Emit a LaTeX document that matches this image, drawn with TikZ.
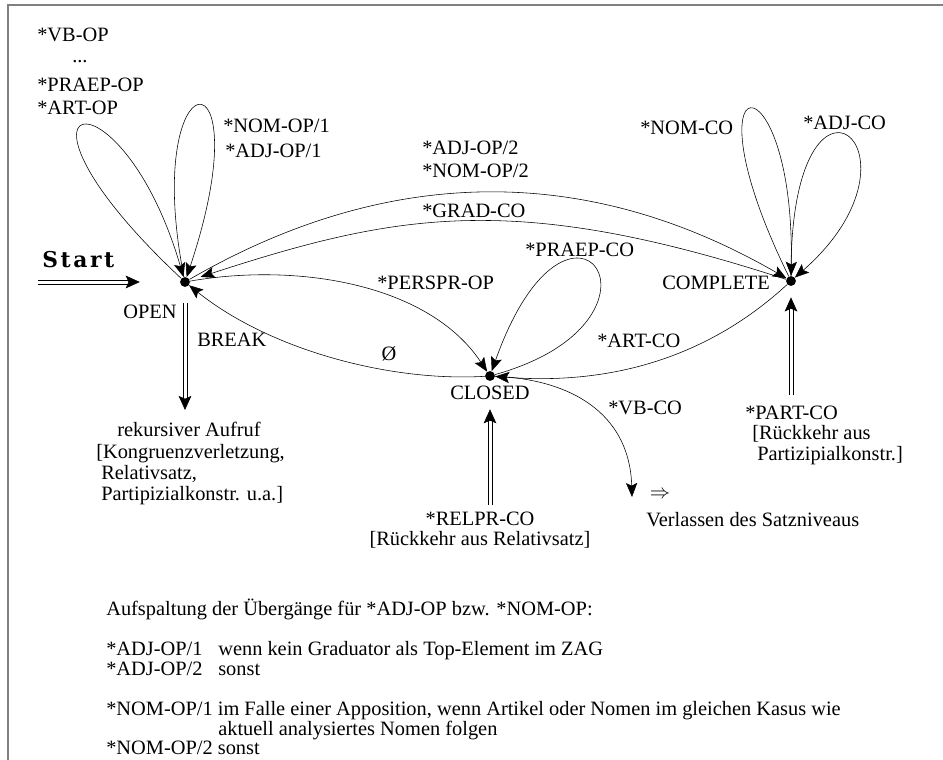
\documentclass[tikz,border=0pt]{standalone}
\usepackage{fontspec}
\setmainfont{Liberation Serif}
\newfontfamily\startfont[LetterSpace=12]{DejaVu Serif}
\usetikzlibrary{positioning,calc,arrows.meta}

\begin{document}
\begin{tikzpicture}[
    x=0.025cm, y=-0.025cm,
    every node/.style={font=\fontsize{14.5}{17}\selectfont, inner sep=0pt},
    state/.style={circle, fill=black, minimum size=7pt},
    trans/.style={draw, thin, -{Stealth[length=10pt, width=8pt, inset=2pt]}},
    dbltip/.style={draw, thin, -{Stealth[length=10pt, width=9pt, inset=2pt]}},
    rail/.style={draw, line width=0.5pt},
    lbl/.style={anchor=base west},
    frame/.style={draw, line width=1.2pt, black!50}
]

% Picture size and frame
\useasboundingbox (0,0) rectangle (943,760);
\draw[frame] (8,760) -- (8,5) -- (943,5);

% Define node positions
\node[state] (open) at (185,282) {};
\node[state] (complete) at (791,281) {};
\node[state] (closed) at (490,376) {};

% State names
\node[lbl] (openlbl) at (123,319) {OPEN};
\node[lbl] (completelbl) at (662,290) {COMPLETE};
\node[anchor=base] (closedlbl) at (490,400) {CLOSED};

% Entry and exits: two rails and a tip
\node[lbl, font=\startfont\bfseries\fontsize{15.5}{17}\selectfont] (start) at (42,268) {Start};
\coordinate (startin) at (38,282);
\coordinate (startend) at (129,282);
\coordinate (breakin) at (185,303);
\coordinate (breakend) at (185,399);
\coordinate (breakout) at (185,410);
\coordinate (relprin) at (490,505);
\coordinate (relprend) at (490,420);
\coordinate (partin) at (791,395);
\coordinate (partend) at (791,308);
\coordinate (vbout) at (632,497);

\draw[rail] ($(startin)+(0,1.4pt)$) -- ($(startend)+(0,1.4pt)$);
\draw[rail] ($(startin)+(0,-1.4pt)$) -- ($(startend)+(0,-1.4pt)$);
\draw[dbltip, shorten >=1cm] (startend) -- (open);

\draw[rail] ($(breakin)+(1.4pt,0)$) -- ($(breakend)+(1.4pt,0)$);
\draw[rail] ($(breakin)+(-1.4pt,0)$) -- ($(breakend)+(-1.4pt,0)$);
\draw[dbltip] (breakend) -- (breakout);

\draw[rail] ($(relprin)+(1.4pt,0)$) -- ($(relprend)+(1.4pt,0)$);
\draw[rail] ($(relprin)+(-1.4pt,0)$) -- ($(relprend)+(-1.4pt,0)$);
\draw[dbltip, shorten >=0.22cm] (relprend) -- (closedlbl);

\draw[rail] ($(partin)+(1.4pt,0)$) -- ($(partend)+(1.4pt,0)$);
\draw[rail] ($(partin)+(-1.4pt,0)$) -- ($(partend)+(-1.4pt,0)$);
\draw[dbltip, shorten >=0.28cm] (partend) -- (complete);

\node[lbl] (breaklbl) at (197,347) {BREAK};
\node[anchor=base] (rekursiv) at (189,437) {rekursiver Aufruf};
\node[lbl] (kongruenz) at (96,459) {[Kongruenzverletzung,};
\node[lbl] (relsatz) at (101,480) {Relativsatz,};
\node[lbl] (partipiz) at (101,501) {Partipizialkonstr. u.a.]};

\node[anchor=base] (relprlbl) at (480,526) {*RELPR-CO};
\node[anchor=base] (relprnote) at (480,546) {[Rückkehr aus Relativsatz]};

\node[lbl] (partlbl) at (745,420) {*PART-CO};
\node[lbl] (partnote) at (752,440) {[Rückkehr aus};
\node[lbl] (partnotetwo) at (757,461) {Partizipialkonstr.]};

\node[lbl] (vbco) at (608,415) {*VB-CO};
\node (exitsym) at (660,495) {$\Rightarrow$};
\node[lbl] (verlassen) at (646,527) {Verlassen des Satzniveaus};

% Transition labels
\node[lbl] (vbop) at (37,42) {*VB-OP};
\node[lbl] (dots) at (72,63) {...};
\node[lbl] (praepop) at (37,92) {*PRAEP-OP};
\node[lbl] (artop) at (37,115) {*ART-OP};
\node[lbl] (nomopone) at (223,133) {*NOM-OP/1};
\node[lbl] (adjopone) at (225,158) {*ADJ-OP/1};
\node[lbl] (adjoptwo) at (422,155) {*ADJ-OP/2};
\node[lbl] (nomoptwo) at (422,178) {*NOM-OP/2};
\node[lbl] (gradco) at (422,218) {*GRAD-CO};
\node[lbl] (praepco) at (525,257) {*PRAEP-CO};
\node[lbl] (persprop) at (377,290) {*PERSPR-OP};
\node[lbl] (nomco) at (640,135) {*NOM-CO};
\node[lbl] (adjco) at (803,130) {*ADJ-CO};
\node[lbl] (artco) at (597,348) {*ART-CO};
\node[anchor=base] (empty) at (389,361) {Ø};

% Loops and arcs
\draw[trans] (open) .. controls (-20,90) and (120,60) .. (open);
\draw[trans] (open) .. controls (140,55) and (265,42) .. (open);
\draw[trans] (open) .. controls (375,172) and (575,156) .. (complete);
\draw[trans, shorten >=8pt] (complete) .. controls (515,191) and (397,213) .. (open);
\draw[trans] (open) .. controls (300,262) and (430,285) .. (closed);
\draw[trans] (closed) .. controls (390,382) and (270,350) .. (open);
\draw[trans] (closed) .. controls (690,320) and (570,150) .. (closed);
\draw[trans] (complete) .. controls (704,361) and (605,385) .. (closed);
\draw[trans] (complete) .. controls (680,55) and (795,52) .. (complete);
\draw[trans] (complete) .. controls (790,30) and (940,150) .. (complete);
\draw[trans] (closed) .. controls (580,380) and (630,420) .. (vbout);

% Key to the split transitions
\node[lbl] (split) at (106,616) {Aufspaltung der Übergänge für *ADJ-OP bzw. *NOM-OP:};
\node[lbl] (adjone) at (106,656) {*ADJ-OP/1};
\node[lbl] (adjonetxt) at (218,656) {wenn kein Graduator als Top-Element im ZAG};
\node[lbl] (adjtwo) at (106,676) {*ADJ-OP/2};
\node[lbl] (adjtwotxt) at (218,676) {sonst};
\node[lbl] (nomone) at (106,716) {*NOM-OP/1 im Falle einer Apposition, wenn Artikel oder Nomen im gleichen Kasus wie};
\node[lbl] (nomonetxt) at (218,736) {aktuell analysiertes Nomen folgen};
\node[lbl] (nomtwo) at (106,755) {*NOM-OP/2 sonst};

\end{tikzpicture}
\end{document}
